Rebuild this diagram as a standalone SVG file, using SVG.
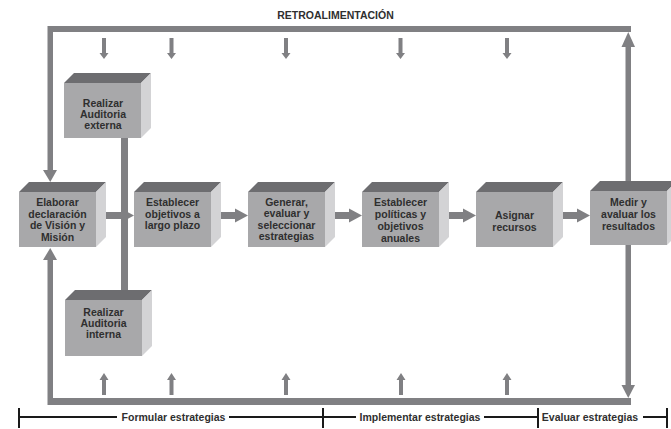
<svg xmlns="http://www.w3.org/2000/svg" width="671" height="429" viewBox="0 0 671 429">
<style>
.f{fill:#a8a8aa}
.t{fill:#6d6d70}
.r{fill:#d3d3d5}
.c{fill:#808083}
.lbl{font-family:"Liberation Sans",Arial,sans-serif;font-weight:bold;font-size:10.5px;fill:#2f2f2f;text-anchor:middle}
.br{stroke:#1a1a1a;stroke-width:2;fill:none}
</style>
<defs>
<path id="dn" d="M-2,0 H2 V15 H4.5 L0,21 L-4.5,15 H-2 Z"/>
<path id="up" d="M-2,22 H2 V7 H4.5 L0,0 L-4.5,7 H-2 Z"/>
<path id="ra" d="M0,-3.5 H15 V-7 L28,0 L15,7 V3.5 H0 Z"/>
</defs>
<rect width="671" height="429" fill="#ffffff"/>
<text class="lbl" x="335.5" y="19">RETROALIMENTACIÓN</text>

<g id="connectors" class="c">
  <rect x="48" y="26" width="583" height="6"/>
  <rect x="47.5" y="26" width="5.5" height="145"/>
  <polygon points="43,170 57,170 50.25,182"/>
  <rect x="47.5" y="258" width="5.5" height="147"/>
  <polygon points="43,260 57,260 50.25,248"/>
  <rect x="48" y="398" width="583" height="7"/>
  <rect x="625.5" y="45" width="5.5" height="137"/>
  <polygon points="621.5,47 635,47 628.25,32"/>
  <rect x="625.5" y="244" width="5.5" height="142"/>
  <polygon points="621.5,385 635,385 628.25,398"/>
  <rect x="121" y="138" width="7" height="153"/>
  <use href="#dn" x="104" y="38"/>
  <use href="#dn" x="171.5" y="38"/>
  <use href="#dn" x="286" y="38"/>
  <use href="#dn" x="400.5" y="38"/>
  <use href="#dn" x="507" y="38"/>
  <use href="#up" x="104" y="373"/>
  <use href="#up" x="171.5" y="373"/>
  <use href="#up" x="286" y="373"/>
  <use href="#up" x="401" y="373"/>
  <use href="#up" x="507" y="373"/>
  <use href="#ra" x="106" y="215.5"/>
  <use href="#ra" x="220" y="215.5"/>
  <use href="#ra" x="334" y="215.5"/>
  <use href="#ra" x="448" y="215.5"/>
  <use href="#ra" x="562" y="215.5"/>
</g>

<g id="externa">
  <polygon class="t" points="64,83 74,73 151,73 141,83"/>
  <polygon class="r" points="141,83 151,73 151,128 141,138"/>
  <rect class="f" x="64" y="83" width="77" height="55"/>
  <text class="lbl" x="103" y="107">Realizar</text>
  <text class="lbl" x="103" y="118">Auditoria</text>
  <text class="lbl" x="103" y="129">externa</text>
</g>

<g id="interna">
  <polygon class="t" points="65,300 75,290 152,290 142,300"/>
  <polygon class="r" points="142,300 152,290 152,346 142,356"/>
  <rect class="f" x="65" y="300" width="77" height="56"/>
  <text class="lbl" x="103.5" y="315.5">Realizar</text>
  <text class="lbl" x="103.5" y="326.5">Auditoria</text>
  <text class="lbl" x="103.5" y="337.5">interna</text>
</g>

<g id="elaborar">
  <polygon class="t" points="19,192 29,182 106,182 96,192"/>
  <polygon class="r" points="96,192 106,182 106,237 96,247"/>
  <rect class="f" x="19" y="192" width="77" height="55"/>
  <text class="lbl" x="57.5" y="205.8">Elaborar</text>
  <text class="lbl" x="57.5" y="217.6">declaración</text>
  <text class="lbl" x="57.5" y="229.4">de Visión y</text>
  <text class="lbl" x="57.5" y="241.2">Misión</text>
</g>

<g id="objetivos">
  <polygon class="t" points="134,192 144,182 221,182 211,192"/>
  <polygon class="r" points="211,192 221,182 221,237 211,247"/>
  <rect class="f" x="134" y="192" width="77" height="55"/>
  <text class="lbl" x="172.5" y="205.8">Establecer</text>
  <text class="lbl" x="172.5" y="217.6">objetivos a</text>
  <text class="lbl" x="172.5" y="229.4">largo plazo</text>
</g>

<g id="generar">
  <polygon class="t" points="248,192 258,182 335,182 325,192"/>
  <polygon class="r" points="325,192 335,182 335,237 325,247"/>
  <rect class="f" x="248" y="192" width="77" height="55"/>
  <text class="lbl" x="286.5" y="205.8">Generar,</text>
  <text class="lbl" x="286.5" y="217.2">evaluar y</text>
  <text class="lbl" x="286.5" y="228.6">seleccionar</text>
  <text class="lbl" x="286.5" y="240">estrategias</text>
</g>

<g id="politicas">
  <polygon class="t" points="362,192 372,182 449,182 439,192"/>
  <polygon class="r" points="439,192 449,182 449,237 439,247"/>
  <rect class="f" x="362" y="192" width="77" height="55"/>
  <text class="lbl" x="400.5" y="206.3">Establecer</text>
  <text class="lbl" x="400.5" y="218.1">políticas y</text>
  <text class="lbl" x="400.5" y="229.9">objetivos</text>
  <text class="lbl" x="400.5" y="241.7">anuales</text>
</g>

<g id="asignar">
  <polygon class="t" points="476,192 486,182 563,182 553,192"/>
  <polygon class="r" points="553,192 563,182 563,237 553,247"/>
  <rect class="f" x="476" y="192" width="77" height="55"/>
  <text class="lbl" x="514.5" y="218.8">Asignar</text>
  <text class="lbl" x="514.5" y="230.5">recursos</text>
</g>

<g id="medir">
  <polygon class="t" points="590,191 600,181 677,181 667,191"/>
  <polygon class="r" points="667,191 677,181 677,235 667,245"/>
  <rect class="f" x="590" y="191" width="77" height="54"/>
  <text class="lbl" x="628.5" y="206.3">Medir y</text>
  <text class="lbl" x="628.5" y="218.1">avaluar los</text>
  <text class="lbl" x="628.5" y="229.9">resultados</text>
</g>

<g id="etapas">
  <path class="br" d="M19,417 H117 M229,417 H356 M484,417 H538 M643,417 H667 M19,408 V428 M323,408 V428 M538,408 V428 M667,408 V428"/>
  <text class="lbl" x="173.5" y="421">Formular estrategias</text>
  <text class="lbl" x="420" y="421">Implementar estrategias</text>
  <text class="lbl" x="590" y="421">Evaluar estrategias</text>
</g>
</svg>
